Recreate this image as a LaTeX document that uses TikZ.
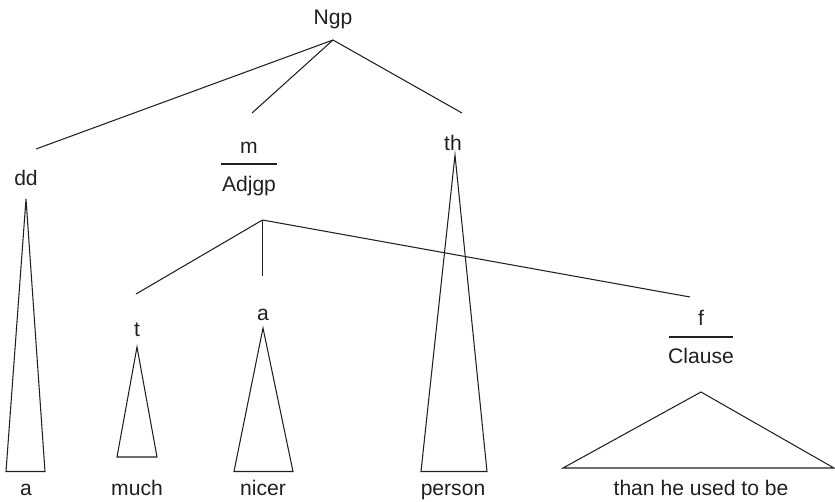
\documentclass[tikz,border=0pt]{standalone}
\usepackage{fontspec}
\setmainfont{Liberation Sans}
\usepackage{tikz}
\definecolor{ink}{HTML}{231f20}

\begin{document}
\begin{tikzpicture}[x=0.03cm,y=-0.03cm,line width=0.9pt,
  lbl/.style={anchor=base,inner sep=0pt,text=ink,font=\fontsize{18}{21}\selectfont},
  br/.style={draw=ink,line join=miter}]
\useasboundingbox (0,0) rectangle (835,502);
% labels
\node[lbl] (ngp) at (333,24.5) {Ngp};
\node[lbl] (dd) at (26,185) {dd};
\node[lbl] (m) at (249,153) {m};
\node[lbl] (adjgp) at (249,191.5) {Adjgp};
\node[lbl] (th) at (453,150) {th};
\node[lbl] (t) at (137,336) {t};
\node[lbl] (a) at (263,320) {a};
\node[lbl] (f) at (701,325) {f};
\node[lbl] (clause) at (701,363) {Clause};
\node[lbl] (wa) at (26,495) {a};
\node[lbl] (wmuch) at (137,495) {much};
\node[lbl] (wnicer) at (263,495) {nicer};
\node[lbl] (wperson) at (453,495) {person};
\node[lbl] (wthan) at (701,495) {than he used to be};
\draw[br] (221,164) -- (277,164);
\draw[br] (669,337) -- (733,337);
% branches
\coordinate (ngp-b) at (333,40);
\coordinate (dd-t) at (36,149);
\coordinate (m-t) at (252,113);
\coordinate (th-t) at (462,113);
\coordinate (adj-b) at (262.5,220);
\coordinate (t-t) at (136,294);
\coordinate (a-t) at (262.5,276);
\coordinate (f-t) at (690,297);
\draw[br] (ngp-b) -- (dd-t);
\draw[br] (ngp-b) -- (m-t);
\draw[br] (ngp-b) -- (th-t);
\draw[br] (adj-b) -- (t-t);
\draw[br] (adj-b) -- (a-t);
\draw[br] (adj-b) -- (f-t);
% triangles
\draw[br] (26,199) -- (6,471.5) -- (45,471.5) -- cycle;
\draw[br] (137,347) -- (117,457) -- (157,457) -- cycle;
\draw[br] (263,328) -- (234,471.5) -- (293,471.5) -- cycle;
\draw[br] (455,155) -- (421,471.5) -- (487,471.5) -- cycle;
\draw[br] (701,392) -- (563,468) -- (834,468) -- cycle;
\end{tikzpicture}
\end{document}
